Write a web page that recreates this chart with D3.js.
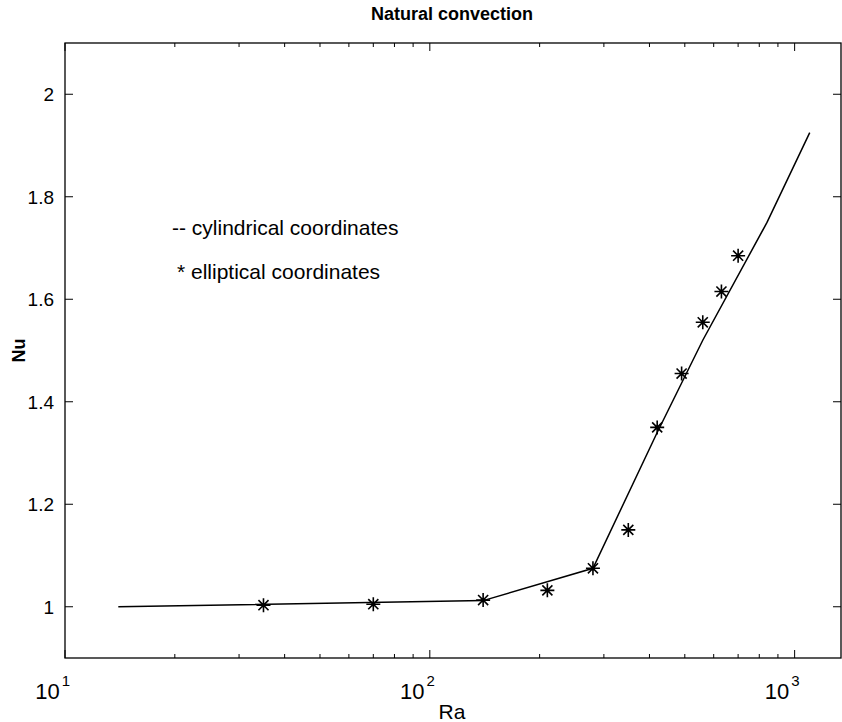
<!DOCTYPE html>
<html>
<head>
<meta charset="utf-8">
<script src="https://cdn.jsdelivr.net/npm/d3@7"></script>
<style>
  html, body { margin: 0; padding: 0; background: #fff; }
  svg { display: block; font-family: "Liberation Sans", Arial, sans-serif; }
  .narrow { font-family: "Liberation Sans Narrow", "Liberation Sans", Arial, sans-serif; }
</style>
</head>
<body>
<svg id="chart" width="842" height="722"></svg>
<script>
// ---- data ----
const lineRa = [14, 140, 280, 420, 560, 840, 1100];
const lineNu = [1.0, 1.012, 1.075, 1.34, 1.52, 1.75, 1.925];
const starRa = [35, 70, 140, 210, 280, 350, 420, 490, 560, 630, 700];
const starNu = [1.003, 1.005, 1.013, 1.032, 1.075, 1.15, 1.35, 1.455, 1.555, 1.615, 1.685];
const yTicks = [1, 1.2, 1.4, 1.6, 1.8, 2];
const xMajorTicks = [10, 100, 1000];
const xTickExp = ["1", "2", "3"];
const title = "Natural convection";
const xLabel = "Ra";
const yLabel = "Nu";
const legendLines = ["-- cylindrical coordinates", "* elliptical coordinates"];

// ---- layout ----
const svg = d3.select("#chart");
const L = 65, R = 841, T = 43, B = 658;
const x = d3.scaleLog().domain([10, 1340]).range([L, R]);
const y = d3.scaleLinear().domain([0.9, 2.1]).range([B, T]);

// minor ticks for the log axis
const xMinor = [];
for (let d = 10; d <= 1000; d *= 10)
  for (let k = 2; k <= 9; k++) if (d * k < 1340) xMinor.push(d * k);

const g = svg.append("g");

// box
g.append("rect").attr("x", L).attr("y", T).attr("width", R - L).attr("height", B - T)
  .attr("fill", "none").attr("stroke", "#000").attr("stroke-width", 1.3);

// ticks (inward, on all four sides)
const majLen = 8, minLen = 4;
const tk = g.append("g").attr("stroke", "#000").attr("stroke-width", 1);
xMajorTicks.forEach(v => {
  tk.append("line").attr("x1", x(v)).attr("x2", x(v)).attr("y1", B).attr("y2", B - majLen);
  tk.append("line").attr("x1", x(v)).attr("x2", x(v)).attr("y1", T).attr("y2", T + majLen);
});
xMinor.forEach(v => {
  tk.append("line").attr("x1", x(v)).attr("x2", x(v)).attr("y1", B).attr("y2", B - minLen);
  tk.append("line").attr("x1", x(v)).attr("x2", x(v)).attr("y1", T).attr("y2", T + minLen);
});
yTicks.forEach(v => {
  tk.append("line").attr("x1", L).attr("x2", L + majLen).attr("y1", y(v)).attr("y2", y(v));
  tk.append("line").attr("x1", R).attr("x2", R - majLen).attr("y1", y(v)).attr("y2", y(v));
});

// tick labels
const yl = g.append("g").attr("font-size", 19).attr("text-anchor", "end").attr("fill", "#000");
yTicks.forEach(v => {
  yl.append("text").attr("x", L - 11).attr("y", y(v)).attr("dy", "0.36em").text(d3.format("~g")(v));
});
const xl = g.append("g").attr("class", "narrow").attr("font-size", 22).attr("fill", "#000");
xMajorTicks.forEach((v, i) => {
  const t = xl.append("text").attr("x", x(v) + 5).attr("y", 699).attr("text-anchor", "end");
  t.append("tspan").text("10");
  t.append("tspan").attr("font-size", 15).attr("dy", -13).attr("dx", 2).text(xTickExp[i]);
});

// axis labels and title
g.append("text").attr("class", "narrow").attr("x", 452).attr("y", 719).attr("text-anchor", "middle")
  .attr("font-size", 21).text(xLabel);
g.append("text").attr("transform", `translate(25,${(T + B) / 2}) rotate(-90)`)
  .attr("text-anchor", "middle").attr("font-size", 18).attr("font-weight", "bold").text(yLabel);
g.append("text").attr("class", "narrow").attr("x", 452).attr("y", 20).attr("text-anchor", "middle")
  .attr("font-size", 18).attr("font-weight", "bold").text(title);

// legend text
g.append("text").attr("x", 172).attr("y", 235).attr("font-size", 21).text(legendLines[0]);
g.append("text").attr("x", 177).attr("y", 279).attr("font-size", 21).text(legendLines[1]);

// line
const lineData = lineRa.map((r, i) => [r, lineNu[i]]);
g.append("path").datum(lineData)
  .attr("d", d3.line().x(d => x(d[0])).y(d => y(d[1])))
  .attr("fill", "none").attr("stroke", "#000").attr("stroke-width", 1.5);

// asterisk markers
const s = 7;
const starData = starRa.map((r, i) => [r, starNu[i]]);
const mk = g.append("g").attr("stroke", "#000").attr("stroke-width", 1.6);
starData.forEach(d => {
  const cx = x(d[0]), cy = y(d[1]);
  const p = `M${cx - s},${cy}L${cx + s},${cy}M${cx},${cy - s}L${cx},${cy + s}` +
            `M${cx - s * 0.72},${cy - s * 0.72}L${cx + s * 0.72},${cy + s * 0.72}` +
            `M${cx - s * 0.72},${cy + s * 0.72}L${cx + s * 0.72},${cy - s * 0.72}`;
  mk.append("path").attr("d", p);
});
</script>
</body>
</html>
